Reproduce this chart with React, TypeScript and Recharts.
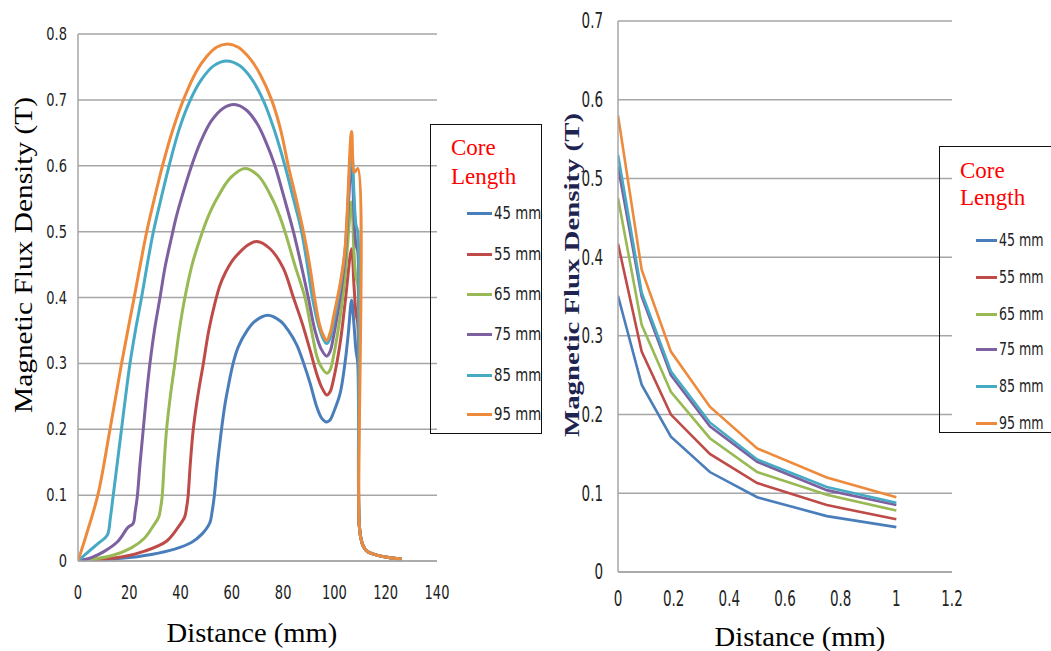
import React from 'react';
import { LineChart, Line, XAxis, YAxis, CartesianGrid } from 'recharts';

// ---------- Left chart data ----------
const L_X45 = [0, 16.9, 28.6, 37.7, 44.2, 48.1, 51.4, 52.3, 53.1, 54.4, 55.9, 57.2, 58.5, 60.5, 62.5, 66, 69, 74, 79, 82, 85.3, 88, 90.5, 93.1, 95, 97, 98.3, 99.6, 102.2, 104.1, 105.4, 106.7, 107.6, 108.4, 109.1];
const L_Y45 = [0, 0.004, 0.01, 0.018, 0.028, 0.04, 0.058, 0.075, 0.097, 0.148, 0.198, 0.235, 0.263, 0.3, 0.325, 0.35, 0.364, 0.373, 0.364, 0.35, 0.328, 0.3, 0.27, 0.234, 0.217, 0.211, 0.214, 0.225, 0.254, 0.3, 0.345, 0.396, 0.36, 0.32, 0.3];
const L_X55 = [0, 16.9, 26, 34.5, 39, 41.6, 42.3, 42.9, 43.8, 44.9, 46.7, 48.8, 51, 53.3, 55.3, 57.5, 60, 62.4, 66, 69.7, 74.9, 80, 84, 87.5, 90.5, 93.1, 95, 97, 98.3, 99.6, 102.2, 104.1, 106.7, 107.6, 108.4, 109.1];
const L_Y55 = [0, 0.006, 0.015, 0.03, 0.051, 0.067, 0.08, 0.097, 0.148, 0.198, 0.25, 0.298, 0.35, 0.39, 0.418, 0.438, 0.455, 0.466, 0.479, 0.485, 0.474, 0.445, 0.4, 0.36, 0.32, 0.284, 0.264, 0.252, 0.257, 0.275, 0.33, 0.39, 0.474, 0.42, 0.376, 0.36];
const L_X65 = [0, 13, 20.8, 26, 29.3, 31.5, 32.2, 32.8, 33.6, 34.5, 36, 37.7, 39.5, 41.6, 44.5, 48.1, 51, 54, 59.5, 65.1, 70.5, 76, 78.5, 80.7, 84.5, 88.5, 90.3, 91.8, 93.2, 94.5, 97, 98.3, 99.6, 102.2, 104.1, 106.7, 107.6, 108.4, 109.1];
const L_Y65 = [0, 0.008, 0.02, 0.035, 0.053, 0.067, 0.08, 0.097, 0.148, 0.198, 0.25, 0.298, 0.35, 0.398, 0.45, 0.495, 0.525, 0.549, 0.582, 0.596, 0.584, 0.548, 0.525, 0.5, 0.45, 0.4, 0.365, 0.335, 0.31, 0.297, 0.285, 0.29, 0.31, 0.37, 0.43, 0.545, 0.47, 0.43, 0.42];
const L_X75 = [0, 5.2, 10.4, 15.6, 19.5, 21.5, 22.3, 23.1, 24.2, 25.4, 26.6, 28, 29.8, 31.9, 34, 36.4, 38.3, 40.3, 44.3, 48, 52, 56.5, 61, 65.5, 70, 73.5, 76.8, 80.5, 84, 87, 89.8, 92.4, 94.8, 97, 98.3, 99.6, 102.2, 104.1, 106.7, 107.6, 108.4, 109.1];
const L_Y75 = [0, 0.005, 0.015, 0.03, 0.051, 0.057, 0.075, 0.097, 0.148, 0.198, 0.248, 0.298, 0.35, 0.398, 0.447, 0.49, 0.522, 0.55, 0.6, 0.638, 0.668, 0.687, 0.693, 0.685, 0.663, 0.634, 0.6, 0.55, 0.5, 0.45, 0.4, 0.35, 0.322, 0.311, 0.318, 0.34, 0.4, 0.46, 0.603, 0.53, 0.48, 0.47];
const L_X85 = [0, 4, 8, 11.4, 12.6, 13.65, 15.3, 16.9, 18.5, 20.2, 22.4, 24.7, 27, 29.3, 32.5, 35.2, 39.5, 43.7, 48, 53, 58, 63, 67.5, 72.3, 76.5, 80.7, 84, 87.2, 89.4, 91.4, 93.5, 95.3, 97, 98.3, 99.6, 102.2, 104.1, 106.7, 107.6, 108.4, 109.1];
const L_Y85 = [0, 0.014, 0.027, 0.039, 0.065, 0.097, 0.148, 0.198, 0.248, 0.298, 0.35, 0.398, 0.45, 0.498, 0.552, 0.595, 0.656, 0.699, 0.73, 0.752, 0.759, 0.752, 0.733, 0.699, 0.655, 0.6, 0.55, 0.5, 0.45, 0.4, 0.362, 0.34, 0.33, 0.338, 0.36, 0.415, 0.47, 0.628, 0.56, 0.51, 0.5];
const L_X95 = [0, 3.9, 7.8, 12.35, 16.9, 22.1, 26.7, 29.9, 33.3, 37, 41.1, 46, 50, 54, 58.3, 62.5, 67, 71, 75.5, 79, 82, 85, 87.9, 90.3, 92.4, 94, 95.5, 97, 98.3, 99.6, 102.2, 104.1, 106.7, 107.8, 109.1];
const L_Y95 = [0, 0.048, 0.101, 0.197, 0.298, 0.404, 0.498, 0.552, 0.605, 0.655, 0.7, 0.742, 0.765, 0.78, 0.785, 0.78, 0.763, 0.739, 0.7, 0.655, 0.6, 0.551, 0.5, 0.45, 0.396, 0.362, 0.344, 0.335, 0.346, 0.37, 0.42, 0.472, 0.652, 0.59, 0.596];
const TAIL_X = [109.6, 110.3, 111.3, 113, 116.5, 120, 126.2];
const TAIL_Y = [0.06, 0.035, 0.022, 0.014, 0.009, 0.006, 0.003];

const LEFT_X_TICKS = [0, 20, 40, 60, 80, 100, 120, 140];
const LEFT_Y_TICKS = [0, 0.1, 0.2, 0.3, 0.4, 0.5, 0.6, 0.7, 0.8];

// ---------- Right chart data ----------
const R_X = [0, 0.085, 0.19, 0.33, 0.5, 0.75, 1.0];
const R_Y45 = [0.351, 0.238, 0.172, 0.127, 0.095, 0.071, 0.057];
const R_Y55 = [0.417, 0.28, 0.2, 0.15, 0.113, 0.085, 0.067];
const R_Y65 = [0.475, 0.314, 0.229, 0.17, 0.127, 0.098, 0.078];
const R_Y75 = [0.515, 0.35, 0.25, 0.185, 0.14, 0.104, 0.085];
const R_Y85 = [0.53, 0.355, 0.255, 0.19, 0.143, 0.108, 0.088];
const R_Y95 = [0.58, 0.384, 0.28, 0.21, 0.157, 0.12, 0.095];

const RIGHT_X_TICKS = [0, 0.2, 0.4, 0.6, 0.8, 1, 1.2];
const RIGHT_Y_TICKS = [0, 0.1, 0.2, 0.3, 0.4, 0.5, 0.6, 0.7];

const SERIES_NAMES = ['45 mm', '55 mm', '65 mm', '75 mm', '85 mm', '95 mm'];
const COLORS = ['#4A7EBB', '#BE4B48', '#98B954', '#7D60A0', '#46AAC5', '#EE8A3C'];

const pts = (xs: number[], ys: number[]) => xs.map((x, i) => ({ x, y: ys[i] }));
const withTail = (xs: number[], ys: number[]) => pts([...xs, ...TAIL_X], [...ys, ...TAIL_Y]);

const LEFT_SERIES = [
  withTail(L_X45, L_Y45),
  withTail(L_X55, L_Y55),
  withTail(L_X65, L_Y65),
  withTail(L_X75, L_Y75),
  withTail(L_X85, L_Y85),
  withTail(L_X95, L_Y95),
];
const RIGHT_SERIES = [R_Y45, R_Y55, R_Y65, R_Y75, R_Y85, R_Y95].map((ys) => pts(R_X, ys));

// Centripetal Catmull-Rom curve (smoothed line, like a spreadsheet's smooth line)
function smoothCurve(context: any) {
  let p: number[][] = [];
  const flush = () => {
    if (p.length === 0) return;
    context.moveTo(p[0][0], p[0][1]);
    if (p.length === 1) return;
    for (let i = 0; i < p.length - 1; i++) {
      const P0 = p[i - 1] || p[i];
      const P1 = p[i];
      const P2 = p[i + 1];
      const P3 = p[i + 2] || p[i + 1];
      const d = (a: number[], b: number[]) => Math.sqrt(Math.hypot(b[0] - a[0], b[1] - a[1]));
      const l01 = d(P0, P1), l12 = d(P1, P2), l23 = d(P2, P3);
      let c1 = [P1[0], P1[1]];
      let c2 = [P2[0], P2[1]];
      if (l01 > 1e-9) {
        const a = 2 * l01 * l01 + 3 * l01 * l12 + l12 * l12;
        const n = 3 * l01 * (l01 + l12);
        c1 = [0, 1].map((k) => (P1[k] * a - P0[k] * l12 * l12 + P2[k] * l01 * l01) / n);
      }
      if (l23 > 1e-9) {
        const b = 2 * l23 * l23 + 3 * l23 * l12 + l12 * l12;
        const m = 3 * l23 * (l23 + l12);
        c2 = [0, 1].map((k) => (P2[k] * b + P1[k] * l23 * l23 - P3[k] * l12 * l12) / m);
      }
      context.bezierCurveTo(c1[0], c1[1], c2[0], c2[1], P2[0], P2[1]);
    }
  };
  return {
    areaStart() {},
    areaEnd() {},
    lineStart() {
      p = [];
    },
    lineEnd() {
      flush();
      p = [];
    },
    point(x: number, y: number) {
      p.push([+x, +y]);
    },
  };
}

const TICK_FONT = "'Liberation Sans Narrow', 'Arial Narrow', 'DejaVu Sans Condensed', sans-serif";
const SERIF = "'Liberation Serif', 'Times New Roman', serif";

const makeTick = (fs: number, sy: number, anchor: string) => (props: any) => {
  const { x, y, payload } = props;
  return (
    <text
      transform={`translate(${x},${y}) scale(1,${sy})`}
      textAnchor={anchor}
      dominantBaseline="central"
      fontSize={fs}
      fontFamily={TICK_FONT}
      fill="#222"
    >
      {String(payload.value)}
    </text>
  );
};

const GRID = '#A6A6A6';

const Legend = ({ left, top, width, height, titleLeft, titleTop, titleSize, lineH, rows, lineLeft, lineW, textSize }: any) => (
  <>
    <div
      style={{
        position: 'absolute',
        left,
        top,
        width,
        height,
        border: '1.5px solid #111',
        boxSizing: 'border-box',
      }}
    />
    <div
      style={{
        position: 'absolute',
        left: titleLeft,
        top: titleTop,
        fontFamily: SERIF,
        fontSize: titleSize,
        lineHeight: `${lineH}px`,
        color: '#FF0000',
        whiteSpace: 'nowrap',
      }}
    >
      Core
      <br />
      Length
    </div>
    {SERIES_NAMES.map((n, i) => (
      <div key={n}>
        <div
          style={{
            position: 'absolute',
            left: lineLeft,
            top: rows[i] - 1.5,
            width: lineW,
            height: 3,
            background: COLORS[i],
          }}
        />
        <div
          style={{
            position: 'absolute',
            left: lineLeft + lineW + 2,
            top: rows[i] - 10,
            height: 20,
            lineHeight: '20px',
            fontFamily: TICK_FONT,
            fontSize: textSize,
            color: '#222',
            whiteSpace: 'nowrap',
            transform: 'scaleY(1.22)',
            transformOrigin: 'left center',
          }}
        >
          {n}
        </div>
      </div>
    ))}
  </>
);

const VTitle = ({ cx, cy, size, sx, bold, color, text }: any) => (
  <div
    style={{
      position: 'absolute',
      left: cx,
      top: cy,
      transform: `translate(-50%, -50%) rotate(-90deg) scaleX(${sx})`,
      fontFamily: SERIF,
      fontSize: size,
      fontWeight: bold ? 'bold' : 'normal',
      color,
      whiteSpace: 'nowrap',
      lineHeight: 1,
    }}
  >
    {text}
  </div>
);

const HTitle = ({ cx, cy, size, text }: any) => (
  <div
    style={{
      position: 'absolute',
      left: cx,
      top: cy,
      transform: 'translate(-50%, -50%) scaleX(1.04)',
      fontFamily: SERIF,
      fontSize: size,
      color: '#000',
      whiteSpace: 'nowrap',
      lineHeight: 1,
    }}
  >
    {text}
  </div>
);

export default function App() {
  return (
    <div
      style={{
        position: 'absolute',
        left: 0,
        top: 0,
        width: 1051,
        height: 651,
        overflow: 'hidden',
        background: '#fff',
      }}
    >
      {/* Left chart */}
      <div style={{ position: 'absolute', left: 0, top: 0 }}>
        <LineChart width={460} height={651} margin={{ top: 34, left: 38, right: 23, bottom: 60 }}>
          <CartesianGrid vertical={false} stroke={GRID} strokeWidth={1.5} />
          <XAxis
            type="number"
            dataKey="x"
            domain={[0, 140]}
            ticks={LEFT_X_TICKS}
            height={30}
            tickLine={false}
            tickSize={0}
            tickMargin={31}
            axisLine={{ stroke: GRID, strokeWidth: 1.5 }}
            tick={makeTick(14.5, 1.3, 'middle')}
            interval={0}
            allowDataOverflow
          />
          <YAxis
            type="number"
            domain={[0, 0.8]}
            ticks={LEFT_Y_TICKS}
            width={40}
            tickLine={false}
            tickSize={0}
            tickMargin={11}
            axisLine={{ stroke: GRID, strokeWidth: 1.5 }}
            tick={makeTick(14.5, 1.27, 'end')}
            interval={0}
            allowDataOverflow
          />
          {LEFT_SERIES.map((d, i) => (
            <Line
              key={SERIES_NAMES[i]}
              data={d}
              dataKey="y"
              name={SERIES_NAMES[i]}
              type={smoothCurve as any}
              stroke={COLORS[i]}
              strokeWidth={3}
              dot={false}
              activeDot={false}
              isAnimationActive={false}
            />
          ))}
        </LineChart>
      </div>

      {/* Right chart */}
      <div style={{ position: 'absolute', left: 470, top: 0 }}>
        <LineChart width={581} height={651} margin={{ top: 21, left: 108, right: 99, bottom: 49 }}>
          <CartesianGrid vertical={false} stroke={GRID} strokeWidth={1.5} />
          <XAxis
            type="number"
            dataKey="x"
            domain={[0, 1.2]}
            ticks={RIGHT_X_TICKS}
            height={30}
            tickLine={false}
            tickSize={0}
            tickMargin={27}
            axisLine={{ stroke: GRID, strokeWidth: 1.5 }}
            tick={makeTick(15, 1.38, 'middle')}
            interval={0}
            allowDataOverflow
          />
          <YAxis
            type="number"
            domain={[0, 0.7]}
            ticks={RIGHT_Y_TICKS}
            width={40}
            tickLine={false}
            tickSize={0}
            tickMargin={15}
            axisLine={{ stroke: GRID, strokeWidth: 1.5 }}
            tick={makeTick(15, 1.38, 'end')}
            interval={0}
            allowDataOverflow
          />
          {RIGHT_SERIES.map((d, i) => (
            <Line
              key={SERIES_NAMES[i]}
              data={d}
              dataKey="y"
              name={SERIES_NAMES[i]}
              type="linear"
              stroke={COLORS[i]}
              strokeWidth={2.6}
              dot={false}
              activeDot={false}
              isAnimationActive={false}
            />
          ))}
        </LineChart>
      </div>

      {/* Axis titles */}
      <VTitle cx={24} cy={255} size={24.5} sx={1.2} bold={false} color="#000" text="Magnetic Flux Density (T)" />
      <HTitle cx={252} cy={633} size={27.5} text="Distance (mm)" />
      <VTitle cx={572} cy={275} size={20} sx={1.44} bold={true} color="#1E2350" text="Magnetic Flux Density (T)" />
      <HTitle cx={800} cy={637} size={27.5} text="Distance (mm)" />

      {/* Legends */}
      <Legend
        left={430}
        top={124}
        width={112}
        height={310}
        titleLeft={451}
        titleTop={133}
        titleSize={23}
        lineH={29}
        rows={[213, 254, 294, 334, 375, 414]}
        lineLeft={467}
        lineW={25}
        textSize={14.8}
      />
      <Legend
        left={939}
        top={146}
        width={140}
        height={287}
        titleLeft={960}
        titleTop={157}
        titleSize={23}
        lineH={27}
        rows={[240, 277, 314, 349, 386, 423]}
        lineLeft={976}
        lineW={21}
        textSize={14}
      />
    </div>
  );
}
